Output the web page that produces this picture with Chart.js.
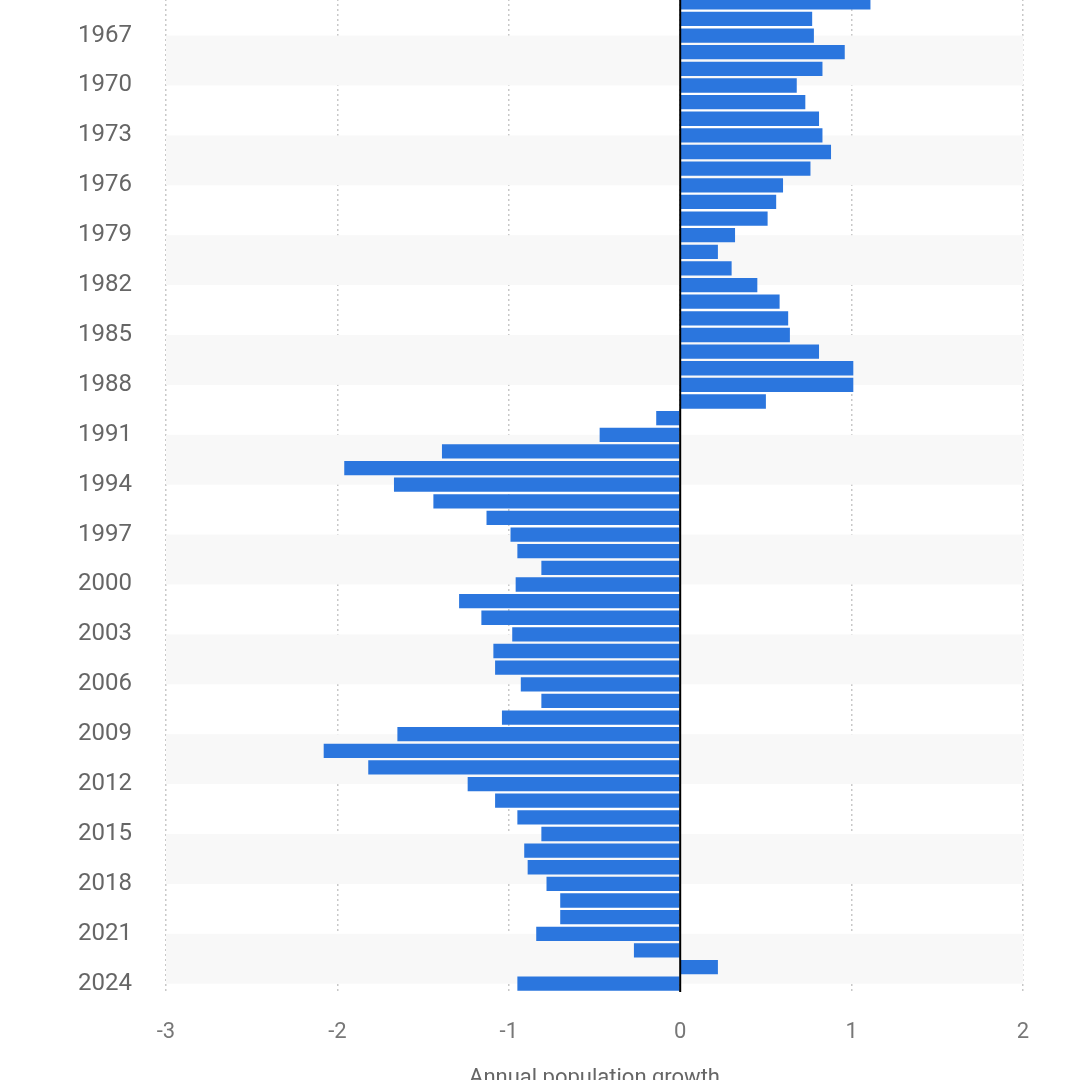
<!DOCTYPE html><html><head><meta charset="utf-8">
<script src="https://cdn.jsdelivr.net/npm/chart.js@4"></script>
<style>html,body{margin:0;padding:0;overflow:hidden;background:#fff;width:1080px;height:1080px}
#w{position:absolute;left:0;top:-60px;width:1080px;height:1160px}</style></head><body>
<div id="w"><canvas id="c"></canvas></div>
<script>
const years=[];for(let y=1965;y<=2024;y++)years.push(String(y));
const growth=[1.11,0.77,0.78,0.96,0.83,0.68,0.73,0.81,0.83,0.88,0.76,0.60,0.56,0.51,0.32,0.22,0.30,0.45,0.58,0.63,0.64,0.81,1.01,1.01,0.50,
-0.14,-0.47,-1.39,-1.96,-1.67,-1.44,-1.13,-0.99,-0.95,-0.81,-0.96,-1.29,-1.16,-0.98,-1.09,-1.08,-0.93,-0.81,-1.04,-1.65,-2.08,-1.82,-1.24,-1.08,-0.95,-0.81,-0.91,-0.89,-0.78,-0.70,-0.70,-0.84,-0.27,0.22,-0.95];
const xTicks=[-3,-2,-1,0,1,2];
const bands={id:'bands',beforeDatasetsDraw(ch){const c=ch.ctx,y=ch.scales.y,a=ch.chartArea;c.save();c.fillStyle='#f8f8f8';
for(let i=2;i<years.length;i+=6){const t=y.getPixelForValue(i),b=y.getPixelForValue(Math.min(i+3,years.length-1));c.fillRect(a.left,t,a.right-a.left,b-t);}
c.restore();},
afterDatasetsDraw(ch){const c=ch.ctx,x=ch.scales.x.getPixelForValue(0),a=ch.chartArea;c.save();c.strokeStyle='#000';c.lineWidth=2;c.beginPath();c.moveTo(x,a.top);c.lineTo(x,a.bottom);c.stroke();c.restore();}};
new Chart(document.getElementById('c'),{type:'bar',data:{labels:years,datasets:[{data:growth,backgroundColor:'#2b76de',barPercentage:0.86,categoryPercentage:1}]},
options:{indexAxis:'y',responsive:true,maintainAspectRatio:false,animation:false,layout:{padding:{top:54,right:57,left:0,bottom:0}},
plugins:{legend:{display:false},tooltip:{enabled:false}},
scales:{y:{afterFit(s){s.width=166},grid:{display:false},border:{display:false},
ticks:{autoSkip:false,padding:26,color:'#666',font:{family:'Roboto',size:24},callback(v,i){return (1965+i-1967)%3===0?years[i]:''}}},
x:{min:-3,max:2,afterFit(s){s.height=108},afterBuildTicks(s){s.ticks=xTicks.map(v=>({value:v}))},
grid:{color:'#c8c8c8',lineWidth:1.5,drawTicks:false,tickBorderDash:[2,2]},border:{display:false,dash:[2,3]},
ticks:{padding:27,color:'#777',font:{family:'Roboto',size:22}},
title:{display:true,text:'Annual population growth',color:'#666',font:{family:'Roboto',size:22},padding:{top:0,bottom:8}}}}},
plugins:[bands]});
</script></body></html>
